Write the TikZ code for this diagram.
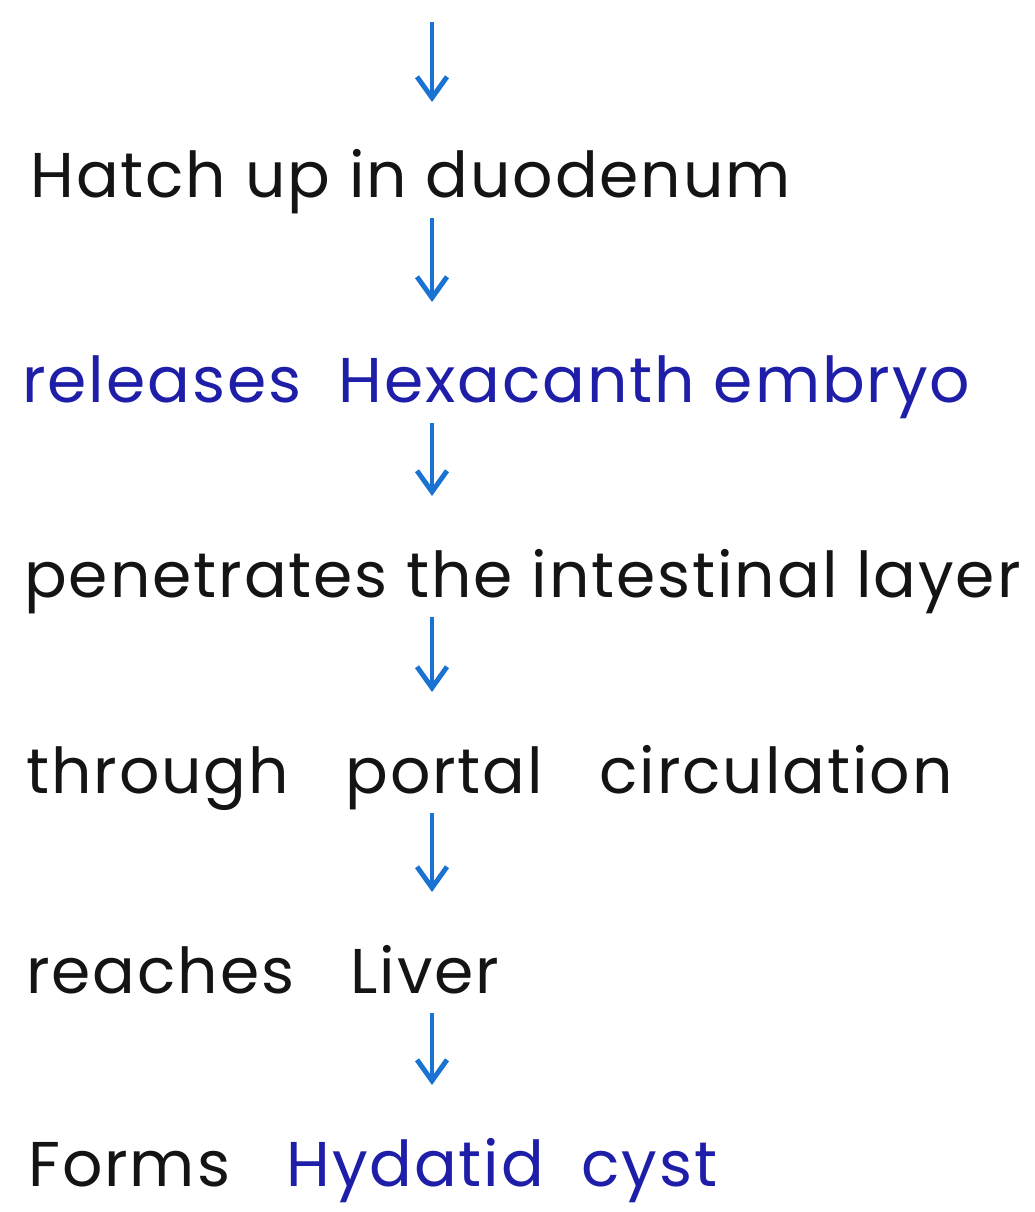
\documentclass[tikz,border=0pt]{standalone}
\usepackage{fontspec}
\setmainfont{Poppins}[LetterSpace=3]
\usetikzlibrary{arrows.meta, calc}
\definecolor{inkblack}{HTML}{141414}
\definecolor{inkblue}{HTML}{1E1EA8}
\definecolor{arrowblue}{HTML}{1A72D2}

\begin{document}
\begin{tikzpicture}[x=0.02cm, y=-0.02cm,
  stage/.style={anchor=base west, inner sep=0pt, text=inkblack,
    font=\fontsize{36}{42}\selectfont},
  flow/.style={arrowblue, line width=2.8pt,
    -{Straight Barb[length=4.2mm, width=6mm, line width=2.8pt]}}]

\useasboundingbox (0,0) rectangle (1034,1212);

% --- Stages of the life cycle ---
\node[stage] (hatch) at (30,198) {Hatch up in duodenum};
\node[stage, text=inkblue] (embryo) at (22,403) {releases\ \ Hexacanth embryo};
\node[stage] (layer) at (24,597) {penetrates the intestinal layer};
\node[stage] (portal) at (26,793) {through\ \ \ portal\ \ \ circulation};
\node[stage] (liver) at (26,993) {reaches\ \ \ Liver};
\node[stage] (cyst) at (28,1186) {Forms\ \ \ \textcolor{inkblue}{Hydatid\ \ cyst}};

% column of the arrows
\coordinate (col) at (432,0);
\coordinate (top) at (432,22);

% --- Arrows ---
\draw[flow] (top) -- ($(hatch.base -| col)+(0,-96)$);
\foreach \a/\b in {hatch/embryo, embryo/layer, layer/portal,
                   portal/liver, liver/cyst}
  \draw[flow] ($(\a.base -| col)+(0,20)$) -- ($(\b.base -| col)+(0,-101)$);

\end{tikzpicture}
\end{document}
